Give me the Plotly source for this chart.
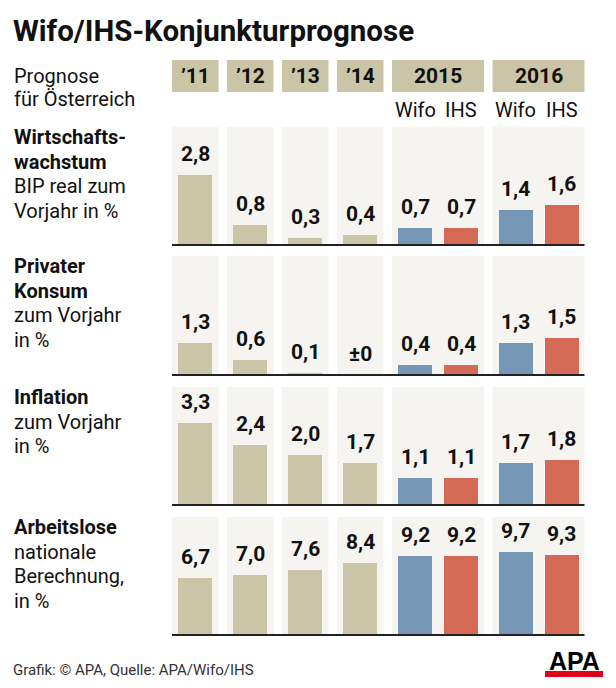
import plotly.graph_objects as go

# ---------------- data ----------------
years = ["’11", "’12", "’13", "’14"]
forecast_years = ["2015", "2016"]
institutes = ["Wifo", "IHS"]

row_titles = [
    ["Wirtschafts-", "wachstum"],
    ["Privater", "Konsum"],
    ["Inflation"],
    ["Arbeitslose"],
]
row_subtitles = [
    ["BIP real zum", "Vorjahr in %"],
    ["zum Vorjahr", "in %"],
    ["zum Vorjahr", "in %"],
    ["nationale", "Berechnung,", "in %"],
]

wachstum_hist = [2.8, 0.8, 0.3, 0.4]
wachstum_wifo = [0.7, 1.4]
wachstum_ihs = [0.7, 1.6]

konsum_hist = [1.3, 0.6, 0.1, 0.0]
konsum_wifo = [0.4, 1.3]
konsum_ihs = [0.4, 1.5]

inflation_hist = [3.3, 2.4, 2.0, 1.7]
inflation_wifo = [1.1, 1.7]
inflation_ihs = [1.1, 1.8]

arbeitslose_hist = [6.7, 7.0, 7.6, 8.4]
arbeitslose_wifo = [9.2, 9.7]
arbeitslose_ihs = [9.2, 9.3]

rows_hist = [wachstum_hist, konsum_hist, inflation_hist, arbeitslose_hist]
rows_wifo = [wachstum_wifo, konsum_wifo, inflation_wifo, arbeitslose_wifo]
rows_ihs = [wachstum_ihs, konsum_ihs, inflation_ihs, arbeitslose_ihs]

header_left = ["Prognose", "für Österreich"]
source_text = "Grafik: © APA, Quelle: APA/Wifo/IHS"
title_text = "Wifo/IHS-Konjunkturprognose"

# ---------------- layout / style ----------------
W, H = 616, 688
FONT = "Roboto"
TAN = "#cbc5a7"
BLUE = "#7596b5"
RED = "#d46955"
PANEL = "#f5f4f0"
INK = "#111111"

X0 = 172.0
SINGLE_W = 46.5
PAIR_W = 92.0
GAP = 8.5
BAR_W = 34.0

ROW_TOP = [127, 256, 387, 517]
ROW_BASE = [245, 375, 505, 635]
ROW_PX_PER_UNIT = [25.0, 25.0, 25.0, 8.57]

# column group geometry (in x-axis units = pixels)
groups = []  # (left, width)
x = X0
for _ in years:
    groups.append((x, SINGLE_W))
    x += SINGLE_W + GAP
for _ in forecast_years:
    groups.append((x, PAIR_W))
    x += PAIR_W + GAP
x_right = groups[-1][0] + groups[-1][1]

hist_x = [g[0] + g[1] / 2 for g in groups[:4]]
wifo_x = [g[0] + g[1] / 4 for g in groups[4:]]
ihs_x = [g[0] + 3 * g[1] / 4 for g in groups[4:]]


def fmt(v):
    if v == 0:
        return "±0"
    return f"{v:.1f}".replace(".", ",")


def py(pix):
    return 1 - pix / H


fig = go.Figure()
shapes = []
annotations = []

for r in range(4):
    yname = "y" if r == 0 else f"y{r+1}"
    axname = "yaxis" if r == 0 else f"yaxis{r+1}"
    top, base, ppu = ROW_TOP[r], ROW_BASE[r], ROW_PX_PER_UNIT[r]
    fig.update_layout(**{axname: dict(
        domain=[py(base), py(top)], range=[0, (base - top) / ppu],
        visible=False, fixedrange=True)})

    for xs, vals, col in [(hist_x, rows_hist[r], TAN),
                          (wifo_x, rows_wifo[r], BLUE),
                          (ihs_x, rows_ihs[r], RED)]:
        fig.add_trace(go.Bar(x=xs, y=vals, width=BAR_W, marker=dict(color=col, line=dict(width=0)),
                             yaxis=yname, xaxis="x", showlegend=False, hoverinfo="skip"))
        for xv, v in zip(xs, vals):
            annotations.append(dict(x=xv, y=v, xref="x", yref=yname, text=f"<b>{fmt(v)}</b>",
                                    showarrow=False, yanchor="bottom", yshift=7,
                                    font=dict(family=FONT, size=21, color=INK)))

    # panels
    for gl, gw in groups:
        shapes.append(dict(type="rect", xref="x", yref=f"{yname} domain", x0=gl, x1=gl + gw,
                           y0=0, y1=1, fillcolor=PANEL, line=dict(width=0), layer="below"))
    # baseline
    shapes.append(dict(type="line", xref="x", yref=f"{yname} domain", x0=X0, x1=x_right,
                       y0=0, y1=0, line=dict(color="#222222", width=2), layer="above"))

    # row labels
    lines = [(t, True) for t in row_titles[r]] + [(t, False) for t in row_subtitles[r]]
    first_center = top + 10
    for i, (t, bold) in enumerate(lines):
        annotations.append(dict(x=12 / W, y=py(first_center + i * 24.6), xref="paper", yref="paper",
                                xanchor="left", yanchor="middle", showarrow=False,
                                text=f"<b>{t}</b>" if bold else t,
                                font=dict(family=FONT, size=20, color=INK)))

# headers
header_labels = years + forecast_years
for (gl, gw), lab in zip(groups, header_labels):
    shapes.append(dict(type="rect", xref="x", yref="paper", x0=gl, x1=gl + gw,
                       y0=py(92), y1=py(60), fillcolor=TAN, line=dict(width=0), layer="below"))
    annotations.append(dict(x=gl + gw / 2, y=py(76), xref="x", yref="paper", text=f"<b>{lab}</b>",
                            showarrow=False, xanchor="center", yanchor="middle",
                            font=dict(family=FONT, size=21, color=INK)))
for k in range(len(forecast_years)):
    for xs, name in [(wifo_x, institutes[0]), (ihs_x, institutes[1])]:
        annotations.append(dict(x=xs[k], y=py(110), xref="x", yref="paper", text=name,
                                showarrow=False, xanchor="center", yanchor="middle",
                                font=dict(family=FONT, size=20, color=INK)))

for i, t in enumerate(header_left):
    annotations.append(dict(x=12 / W, y=py(76 + i * 23), xref="paper", yref="paper", text=t,
                            showarrow=False, xanchor="left", yanchor="middle",
                            font=dict(family=FONT, size=20, color=INK)))

# title
annotations.append(dict(x=11 / W, y=py(31), xref="paper", yref="paper", text=f"<b>{title_text}</b>",
                        showarrow=False, xanchor="left", yanchor="middle",
                        font=dict(family=FONT, size=29.5, color=INK)))
# source
annotations.append(dict(x=11 / W, y=py(670), xref="paper", yref="paper", text=source_text,
                        showarrow=False, xanchor="left", yanchor="middle",
                        font=dict(family=FONT, size=15, color="#333333")))
# APA logo
annotations.append(dict(x=574 / W, y=py(661), xref="paper", yref="paper", text="<b>APA</b>",
                        showarrow=False, xanchor="center", yanchor="middle",
                        font=dict(family="Liberation Sans", size=25, color="#000000")))
shapes.append(dict(type="rect", xref="paper", yref="paper", x0=545 / W, x1=603 / W,
                   y0=py(677), y1=py(671), fillcolor="#e2001a", line=dict(width=0)))

fig.update_layout(
    width=W, height=H, margin=dict(l=0, r=0, t=0, b=0),
    paper_bgcolor="white", plot_bgcolor="rgba(0,0,0,0)",
    xaxis=dict(range=[0, W], domain=[0, 1], visible=False, fixedrange=True),
    bargap=0, barmode="overlay",
    shapes=shapes, annotations=annotations,
    font=dict(family=FONT),
)

fig.write_html("out.html", config={"displayModeBar": False},
               post_script="document.body.style.margin='0';document.body.style.overflow='hidden';")
